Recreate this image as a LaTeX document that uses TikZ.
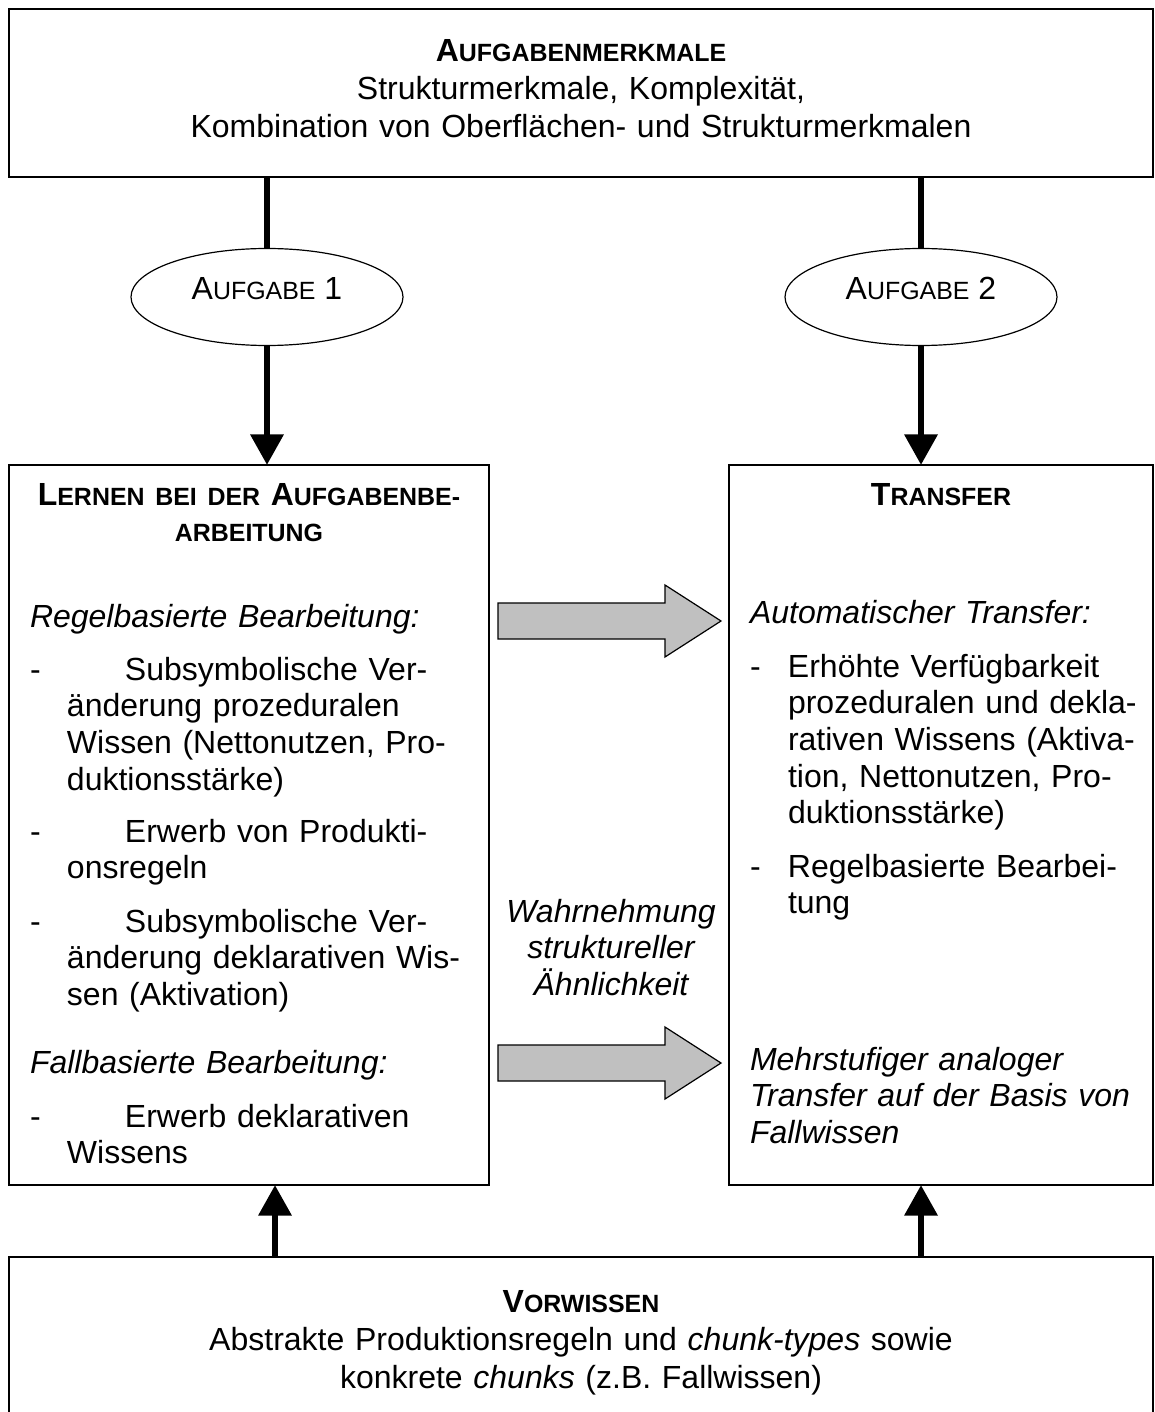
\documentclass[tikz,border=0pt]{standalone}
\usepackage{fontspec}
\setmainfont{Liberation Sans}
\usetikzlibrary{arrows.meta,shapes.geometric}

\definecolor{arrowgray}{HTML}{C0C0C0}

% capitals set at reduced size, as word-processor small caps
\newcommand\fsc[1]{{\fontsize{18.7pt}{18.7pt}\selectfont #1}}

\begin{document}
\begin{tikzpicture}[
  x=0.75pt, y=-0.75pt,
  frame/.style={draw=black, line width=1.1pt, inner sep=0pt, outer sep=0pt, rectangle},
  oval/.style={ellipse, draw=black, line width=0.9pt, inner sep=0pt, outer sep=0pt,
    minimum width=204pt, minimum height=72.75pt,
    text height=17.2pt, text depth=12.7pt,
    font=\fontsize{24pt}{27.5pt}\selectfont},
  link/.style={line width=5pt},
  flow/.style={line width=5pt, -{Triangle[width=24pt,length=23pt]}},
  para/.style={inner sep=0pt, outer sep=0pt, anchor=base west, align=left,
    text width=#1, font=\fontsize{24pt}{27.5pt}\selectfont},
  para/.default=345pt,
  centred/.style={inner sep=0pt, outer sep=0pt, anchor=base, align=center,
    text width=#1, font=\fontsize{24pt}{27.5pt}\selectfont},
  wide/.style={inner sep=0pt, outer sep=0pt, anchor=base, align=center,
    text width=840pt, font=\fontsize{24pt}{28.5pt}\selectfont},
  blockarrow/.pic={
    \draw[line width=0.9pt, fill=arrowgray, line join=miter]
      (0,-18) -- (167,-18) -- (167,-36) -- (223,0) -- (167,36) -- (167,18) -- (0,18) -- cycle;
  }
]
\useasboundingbox (0,0) rectangle (1155,1412);
\fill[white] (0,0) rectangle (1155,1412);

% ---- boxes
\node[frame, minimum width=858pt, minimum height=126pt] (task) at (581,93) {};
\node[frame, minimum width=360pt, minimum height=540pt] (learn) at (249,825) {};
\node[frame, minimum width=318pt, minimum height=540pt] (transfer) at (941,825) {};
\node[frame, minimum width=858pt, minimum height=149.25pt] (prior) at (581,1356.5) {};

% ---- task ovals
\node[oval] (task1) at (267,297) {A\fsc{UFGABE} 1};
\node[oval] (task2) at (921,297) {A\fsc{UFGABE} 2};

% ---- connectors
\draw[link] (task1 |- task.south) -- (task1.north);
\draw[link] (task2 |- task.south) -- (task2.north);
\draw[flow] (task1.south) -- (task1 |- learn.north);
\draw[flow] (task2.south) -- (task2 |- transfer.north);

\coordinate (upL) at (275,1257);
\coordinate (upR) at (921,1257);
\draw[flow] (upL) -- (upL |- learn.south);
\draw[flow] (upR) -- (upR |- transfer.south);

% ---- broad transfer arrows
\pic at (498,621) {blockarrow};
\pic at (498,1063) {blockarrow};

% ---- texts of the top and bottom boxes
\node[wide] (tasktext) at (581,62)
  {\textbf{A\fsc{UFGABENMERKMALE}}\\
   Strukturmerkmale, Komplexität,\\
   Kombination von Oberflächen- und Strukturmerkmalen};
\node[wide] (priortext) at (581,1312)
  {\textbf{V\fsc{ORWISSEN}}\\
   Abstrakte Produktionsregeln und \textit{chunk-types} sowie\\
   konkrete \textit{chunks} (z.B. Fallwissen)};

% ---- learning box
\node[centred=345pt] (learnhead) at (249,505)
  {\bfseries L\fsc{ERNEN BEI DER} A\fsc{UFGABENBE-}\\\fsc{ARBEITUNG}};
\node[para] (rulebased) at (30,627) {\itshape Regelbasierte Bearbeitung:};
\node[para] (l1) at (30,680)
  {\makebox[71.25pt][l]{-}Subsymbolische Ver-\\
   \hspace*{27.75pt}änderung prozeduralen\\
   \hspace*{27.75pt}Wissen (Nettonutzen, Pro-\\
   \hspace*{27.75pt}duktionsstärke)};
\node[para] (l2) at (30,842)
  {\makebox[71.25pt][l]{-}Erwerb von Produkti-\\
   \hspace*{27.75pt}onsregeln};
\node[para] (l3) at (30,932)
  {\makebox[71.25pt][l]{-}Subsymbolische Ver-\\
   \hspace*{27.75pt}änderung deklarativen Wis-\\
   \hspace*{27.75pt}sen (Aktivation)};
\node[para] (casebased) at (30,1073) {\itshape Fallbasierte Bearbeitung:};
\node[para] (l4) at (30,1127)
  {\makebox[71.25pt][l]{-}Erwerb deklarativen\\
   \hspace*{27.75pt}Wissens};

% ---- transfer box
\node[centred=300pt] (transferhead) at (941,505) {\bfseries T\fsc{RANSFER}};
\node[para=300pt] (auto) at (750,623) {\itshape Automatischer Transfer:};
\node[para=300pt] (r1) at (750,677)
  {\makebox[28.5pt][l]{-}Erhöhte Verfügbarkeit\\
   \hspace*{28.5pt}prozeduralen und dekla-\\
   \hspace*{28.5pt}rativen Wissens (Aktiva-\\
   \hspace*{28.5pt}tion, Nettonutzen, Pro-\\
   \hspace*{28.5pt}duktionsstärke)};
\node[para=300pt] (r2) at (750,877)
  {\makebox[28.5pt][l]{-}Regelbasierte Bearbei-\\
   \hspace*{28.5pt}tung};
\node[para=300pt] (multi) at (750,1070)
  {\itshape Mehrstufiger analoger\\Transfer auf der Basis von\\Fallwissen};

% ---- label between the boxes
\node[centred=172pt] (similarity) at (611,922)
  {\itshape Wahrnehmung\\struktureller\\Ähnlichkeit};
\end{tikzpicture}
\end{document}
